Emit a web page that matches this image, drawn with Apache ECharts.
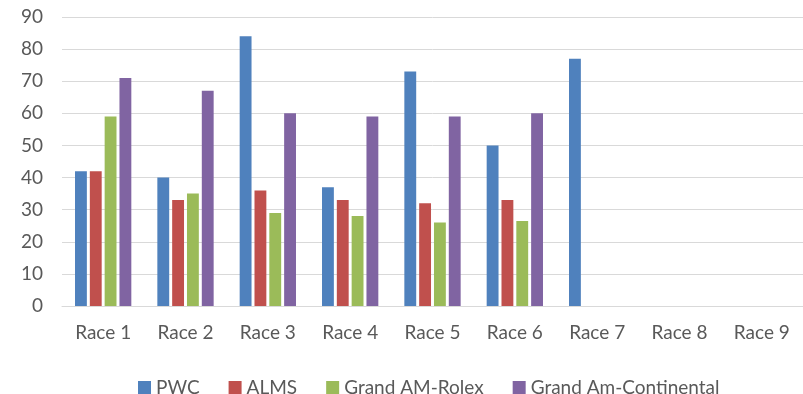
<!DOCTYPE html>
<html>
<head>
<meta charset="utf-8">
<script src="https://cdn.jsdelivr.net/npm/echarts@6/dist/echarts.min.js"></script>
<style>
  html, body { margin: 0; padding: 0; background: #fff; }
  .box { width: 803px; height: 394px; }
</style>
</head>
<body>
<div class="box"></div>
<script>
const races = ['Race 1', 'Race 2', 'Race 3', 'Race 4', 'Race 5', 'Race 6', 'Race 7', 'Race 8', 'Race 9'];
const pwc = [42, 40, 84, 37, 73, 50, 77, null, null];
const alms = [42, 33, 36, 33, 32, 33, null, null, null];
const rolex = [59, 35, 29, 28, 26, 26.5, null, null, null];
const continental = [71, 67, 60, 59, 59, 60, null, null, null];

const chartDom = document.getElementsByClassName('box')[0];
const myChart = echarts.init(chartDom);

const font = 'Lato';

function bar(name, values, color) {
    return {
        name: name,
        type: 'bar',
        data: values,
        itemStyle: { color: color },
        barGap: '25%',
        barCategoryGap: '31.6%'
    };
}

const option = {
    animation: false,
    textStyle: { fontFamily: font },
    // plot runs past the right edge of the picture, as in the source
    grid: { left: 62, width: 750, top: 17, bottom: 88 },
    legend: {
        top: 373,
        left: 133,
        itemWidth: 13,
        itemHeight: 13,
        itemGap: 29,
        icon: 'rect',
        textStyle: { color: '#595959', fontSize: 19, fontFamily: font }
    },
    xAxis: {
        type: 'category',
        data: races,
        axisLine: { lineStyle: { color: '#d9d9d9' } },
        axisTick: { show: false },
        axisLabel: { color: '#595959', fontSize: 19, margin: 17 }
    },
    yAxis: {
        type: 'value',
        min: 0,
        max: 90,
        interval: 10,
        axisLabel: { color: '#595959', fontSize: 19, margin: 19 },
        splitLine: { lineStyle: { color: '#d9d9d9' } }
    },
    series: [
        bar('PWC', pwc, '#4f81bd'),
        bar('ALMS', alms, '#c0504d'),
        bar('Grand AM-Rolex', rolex, '#9bbb59'),
        bar('Grand Am-Continental', continental, '#8064a2')
    ]
};

myChart.setOption(option);
</script>
</body>
</html>
